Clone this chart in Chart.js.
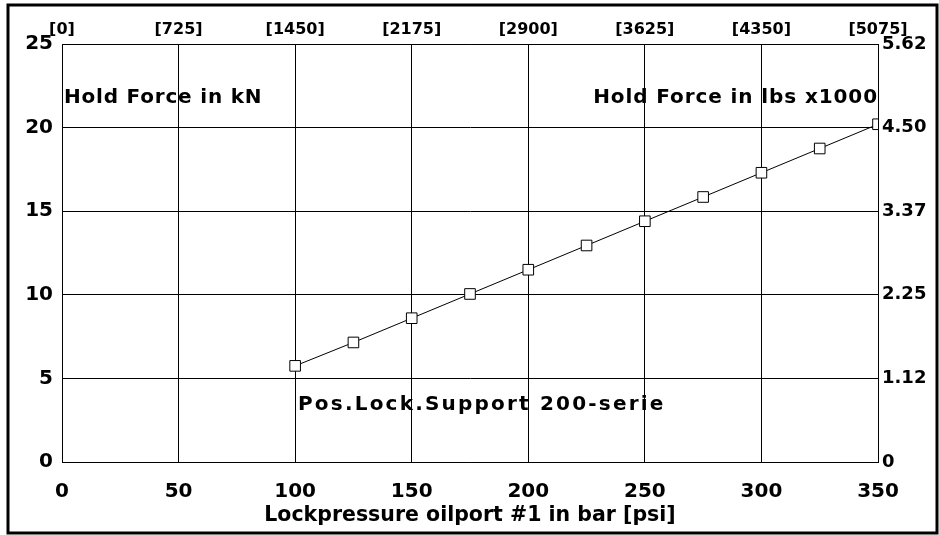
<!DOCTYPE html>
<html>
<head>
<meta charset="utf-8">
<script src="https://cdn.jsdelivr.net/npm/chart.js@4/dist/chart.umd.min.js"></script>
<style>
  html, body { margin:0; padding:0; background:#fff; }
  #wrap { position:relative; width:939px; height:535px; }
</style>
</head>
<body>
<div id="wrap"><canvas id="chart"></canvas></div>
<script>
// values
const pressureBar = [100, 125, 150, 175, 200, 225, 250, 275, 300, 325, 350];
const holdForceKN = [5.75, 7.15, 8.6, 10.05, 11.5, 12.95, 14.4, 15.85, 17.3, 18.75, 20.2];
const psiLabels = ['[0]', '[725]', '[1450]', '[2175]', '[2900]', '[3625]', '[4350]', '[5075]'];
const lbsLabels = ['0', '1.12', '2.25', '3.37', '4.50', '5.62'];
const xTitle = 'Lockpressure oilport #1 in bar [psi]';
const noteLeft = 'Hold Force in kN';
const noteRight = 'Hold Force in lbs x1000';
const noteSeries = 'Pos.Lock.Support 200-serie';

const FAM = 'DejaVu Sans';
const $ = (id) => document.getElementById(id);

const notes = {
  id:'notes',
  afterDraw(chart){
    const {ctx, chartArea:a} = chart;
    ctx.save();
    ctx.fillStyle = '#000';
    ctx.font = 'bold 20px "DejaVu Sans"';
    ctx.textBaseline = 'middle';
    ctx.textAlign = 'left';
    ctx.letterSpacing = '0.8px';
    ctx.fillText(noteLeft, a.left + 2, 98);
    ctx.textAlign = 'right';
    ctx.letterSpacing = '0.9px';
    ctx.fillText(noteRight, a.right, 98);
    ctx.textAlign = 'left';
    ctx.letterSpacing = '2.2px';
    ctx.fillText(noteSeries, 298, 405);
    ctx.letterSpacing = '0px';
    // outer frame
    ctx.strokeStyle = '#000';
    ctx.lineWidth = 3;
    ctx.strokeRect(8, 5, 929, 528);
    ctx.restore();
  }
};

const tickBase = { color:'#000', autoSkip:false, maxRotation:0 };
const border = { display:true, color:'#000', width:1 };

new Chart($('chart'), {
  type:'line',
  data:{
    datasets:[{
      data: pressureBar.map((x, i) => ({ x, y: holdForceKN[i] })),
      xAxisID:'x', yAxisID:'y',
      borderColor:'#000', borderWidth:1, tension:0,
      pointStyle:'rect', pointRadius:7.5, pointHoverRadius:7.5,
      pointBackgroundColor:'#fff', pointBorderColor:'#000', pointBorderWidth:1
    }]
  },
  options:{
    responsive:true, maintainAspectRatio:false, animation:false,
    layout:{ padding:0 },
    plugins:{ legend:{ display:false }, tooltip:{ enabled:false } },
    scales:{
      x:{
        type:'linear', position:'bottom', min:0, max:350,
        ticks:{ ...tickBase, font:{ family:FAM, size:20, weight:'bold' }, stepSize:50, padding:18 },
        grid:{ color:'#000', lineWidth:1, drawTicks:false },
        border,
        title:{ display:true, text:xTitle, color:'#000', font:{ family:FAM, size:20.5, weight:'bold' }, padding:{ top:0, bottom:7 } },
        afterFit: s => { s.height = 73; }
      },
      x2:{
        type:'linear', position:'top', min:0, max:350,
        ticks:{ ...tickBase, font:{ family:FAM, size:16, weight:'bold' }, stepSize:50, padding:5, callback:(v, i) => psiLabels[i] },
        grid:{ display:false, drawTicks:false },
        border,
        afterFit: s => { s.height = 44; }
      },
      y:{
        type:'linear', position:'left', min:0, max:25,
        ticks:{ ...tickBase, font:{ family:FAM, size:20, weight:'bold' }, stepSize:5, padding:9 },
        grid:{ color:'#000', lineWidth:1, drawTicks:false },
        border,
        afterFit: s => { s.width = 62; }
      },
      y2:{
        type:'linear', position:'right', min:0, max:25,
        ticks:{ ...tickBase, font:{ family:FAM, size:18, weight:'bold' }, stepSize:5, padding:4, callback:(v, i) => lbsLabels[i] },
        grid:{ display:false, drawTicks:false },
        border,
        afterFit: s => { s.width = 61; }
      }
    }
  },
  plugins:[notes]
});
</script>
</body>
</html>
